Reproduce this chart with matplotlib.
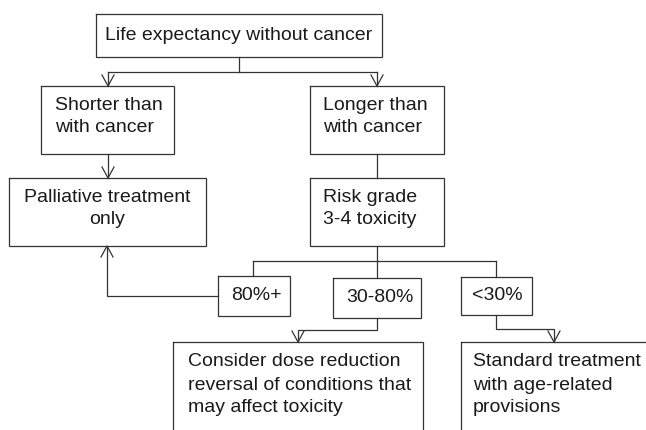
import matplotlib
matplotlib.use("Agg")
import matplotlib.pyplot as plt

# ---- content ----
top_label = ["Life expectancy without cancer"]
shorter_label = ["Shorter than", "with cancer"]
longer_label = ["Longer than", "with cancer"]
palliative_label = ["Palliative treatment", "only"]
risk_label = ["Risk grade", "3-4 toxicity"]
risk_levels = ["80%+", "30-80%", "<30%"]
consider_label = ["Consider dose reduction", "reversal of conditions that", "may affect toxicity"]
standard_label = ["Standard treatment", "with age-related", "provisions"]

# ---- layout (pixel coordinates, y downward) ----
W, H = 646, 430
LC = "#333333"
TC = "#1a1a1a"
LW = 0.9
FS = 14
FONT = ["Liberation Sans", "DejaVu Sans"]

fig = plt.figure(figsize=(W / 100, H / 100), dpi=100)
ax = fig.add_axes([0, 0, 1, 1])
ax.set_xlim(0, W)
ax.set_ylim(H, 0)
ax.axis("off")


def box(x0, y0, x1, y1):
    ax.plot([x0, x1, x1, x0, x0], [y0, y0, y1, y1, y0], color=LC, lw=LW,
            solid_joinstyle="miter", clip_on=True)


def lines_text(lines, x, ys, ha="left"):
    for t, y in zip(lines, ys):
        ax.text(x, y, t, ha=ha, va="center", fontsize=FS, color=TC, family=FONT)


def path(xs, ys):
    ax.plot(xs, ys, color=LC, lw=LW, solid_joinstyle="miter")


def head(x, y, d):
    hw, hl = 6, 11
    if d == "down":
        ax.plot([x - hw, x, x + hw], [y - hl, y, y - hl], color=LC, lw=LW)
    else:
        ax.plot([x - hw, x, x + hw], [y + hl, y, y + hl], color=LC, lw=LW)


# boxes
box(96, 14, 382, 57)
lines_text(top_label, 239, [35], ha="center")

box(41, 86, 174, 154)
lines_text(shorter_label, 55, [106, 128])

box(310, 86, 444, 154)
lines_text(longer_label, 323, [106, 128])

box(9, 178, 206, 246)
lines_text(palliative_label, 107, [198, 220], ha="center")

box(310, 178, 444, 246)
lines_text(risk_label, 323, [198, 220])

box(218, 276, 290, 316)
box(333, 278, 421, 318)
box(461, 277, 532, 315)
lines_text([risk_levels[0]], 256, [296], ha="center")
lines_text([risk_levels[1]], 380, [298], ha="center")
lines_text([risk_levels[2]], 497, [296], ha="center")

box(173, 342, 423, 460)
lines_text(consider_label, 188, [362, 385, 407])

box(461, 342, 700, 460)
lines_text(standard_label, 473, [362, 385, 407])

# connectors
path([239, 239], [57, 72])
path([108, 377], [72, 72])
path([108, 108], [72, 86]); head(108, 86, "down")
path([377, 377], [72, 86]); head(377, 86, "down")
path([108, 108], [154, 178]); head(108, 178, "down")
path([377, 377], [154, 178])
path([377, 377], [246, 261])
path([253, 496], [261, 261])
path([253, 253], [261, 276])
path([377, 377], [261, 278])
path([496, 496], [261, 277])
path([218, 107, 107], [296, 296, 246]); head(107, 246, "up")
path([377, 377, 298, 298], [318, 330, 330, 342]); head(298, 342, "down")
path([496, 496, 554, 554], [315, 329, 329, 342]); head(554, 342, "down")

fig.savefig("out.png", dpi=100, facecolor="white")
